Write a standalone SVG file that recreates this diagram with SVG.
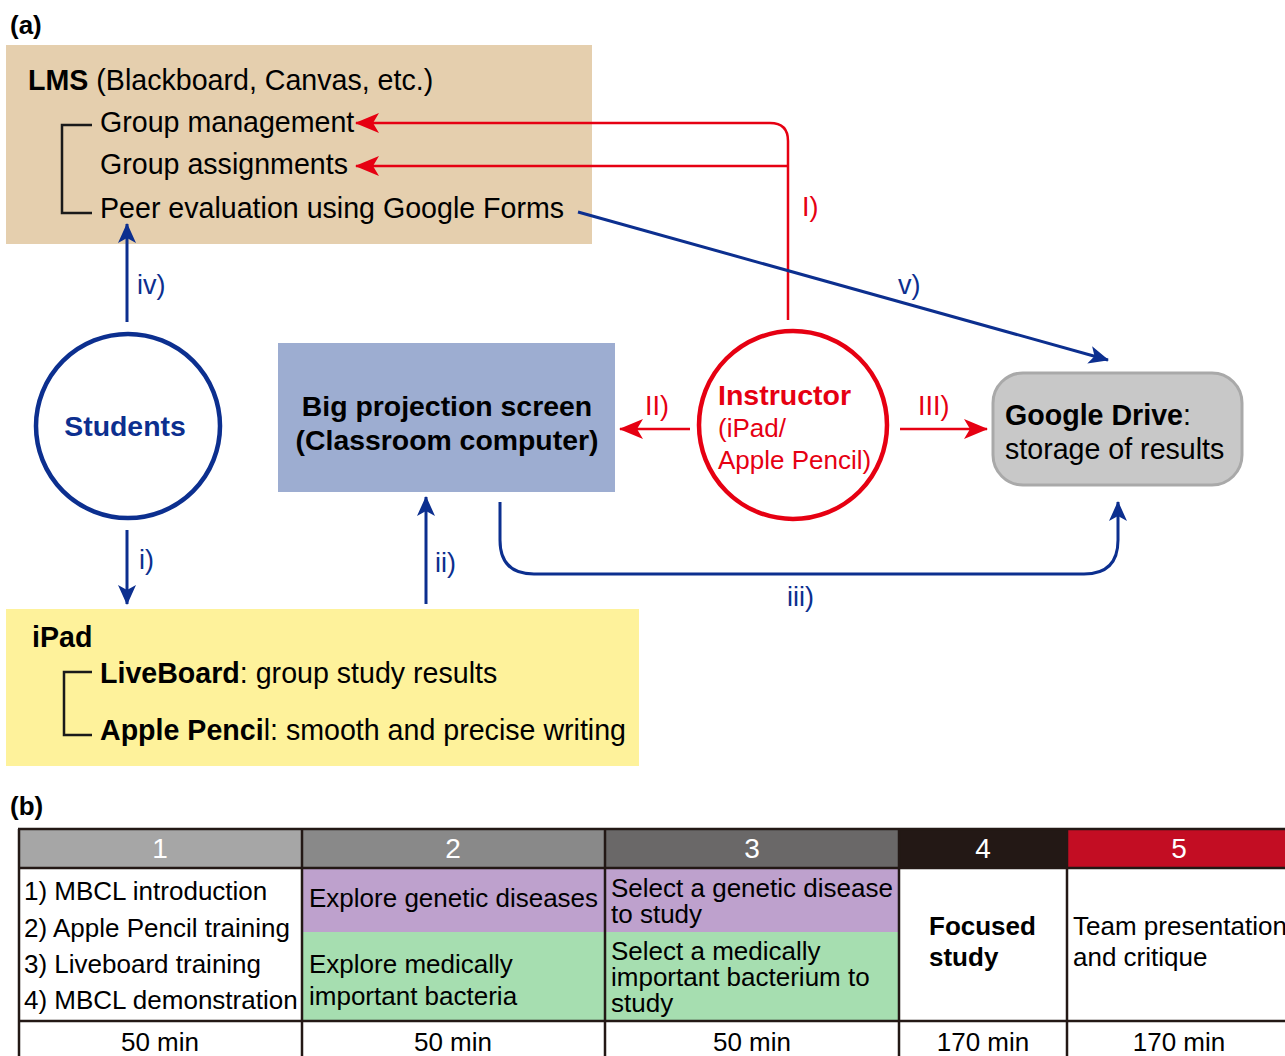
<svg xmlns="http://www.w3.org/2000/svg" width="1285" height="1056" viewBox="0 0 1285 1056">
<defs>
<style>
text{font-family:"Liberation Sans",Arial,Helvetica,sans-serif;}
.t28{font-size:28.6px;fill:#000;}
.t26{font-size:26px;fill:#000;}
.b{font-weight:bold;}
.blue{stroke:#0c2f8f;stroke-width:3;fill:none;}
.red{stroke:#e60012;stroke-width:2.5;fill:none;}
.lb{font-size:27px;fill:#0c2f8f;}
.lr{font-size:27px;fill:#e60012;}
.brk{stroke:#1a1a1a;stroke-width:2.5;fill:none;}
.grid{stroke:#231815;stroke-width:2.5;fill:none;}
.hd{font-size:28px;fill:#fff;text-anchor:middle;}
.mid{text-anchor:middle;}
</style>
<marker id="ab" viewBox="0 0 20 18" markerWidth="20" markerHeight="18" refX="19" refY="9" orient="auto" markerUnits="userSpaceOnUse">
<path d="M0,0 L20,9 L0,18 L5,9 Z" fill="#0c2f8f"/>
</marker>
<marker id="ar" viewBox="0 0 24 20" markerWidth="24" markerHeight="20" refX="23" refY="10" orient="auto" markerUnits="userSpaceOnUse">
<path d="M0,0 L24,10 L0,20 L6,10 Z" fill="#e60012"/>
</marker>
</defs>
<rect x="0" y="0" width="1285" height="1056" fill="#fff"/>

<text x="10" y="34" class="b" style="font-size:26px">(a)</text>

<g id="lms">
<rect x="6" y="45" width="586" height="199" fill="#e5cfae"/>
<text x="28" y="90" class="t28"><tspan font-weight="bold">LMS</tspan> (Blackboard, Canvas, etc.)</text>
<text x="100" y="132" class="t28">Group management</text>
<text x="100" y="174" class="t28">Group assignments</text>
<text x="100" y="218" class="t28">Peer evaluation using Google Forms</text>
<path class="brk" d="M92,125 H62 V213 H92"/>
</g>

<g id="students">
<circle cx="128" cy="426" r="92" fill="#fff" stroke="#0c2f8f" stroke-width="4.5"/>
<text x="125" y="436" class="mid b" style="font-size:28.4px;fill:#0c2f8f">Students</text>
</g>

<g id="projection">
<rect x="278" y="343" width="337" height="149" fill="#9dadd1"/>
<text x="447" y="416" class="b mid" style="font-size:28.4px">Big projection screen</text>
<text x="447" y="450" class="b mid" style="font-size:28.4px">(Classroom computer)</text>
</g>

<g id="instructor">
<ellipse cx="793" cy="425" rx="94" ry="94" fill="#fff" stroke="#e60012" stroke-width="4.5"/>
<text x="718" y="405" class="b" style="font-size:28.5px;fill:#e60012">Instructor</text>
<text x="718" y="437" style="font-size:26px;fill:#e60012">(iPad/</text>
<text x="718" y="469" style="font-size:26px;fill:#e60012">Apple Pencil)</text>
</g>

<g id="gdrive">
<rect x="993" y="373" width="249" height="112" rx="30" ry="30" fill="#c8c8c8" stroke="#a9a9a9" stroke-width="3"/>
<text x="1005" y="425" class="t28"><tspan font-weight="bold">Google Drive</tspan>:</text>
<text x="1005" y="459" class="t28">storage of results</text>
</g>

<g id="ipad">
<rect x="6" y="609" width="633" height="157" fill="#fef29b"/>
<text x="32" y="647" class="t28 b">iPad</text>
<text x="100" y="683" class="t28"><tspan font-weight="bold">LiveBoard</tspan>: group study results</text>
<text x="100" y="740" class="t28"><tspan font-weight="bold">Apple Penci</tspan>l: smooth and precise writing</text>
<path class="brk" d="M92,672 H64 V735 H92"/>
</g>

<g id="connectors">
<path class="red" d="M788,320 V141 Q788,123 770,123 H356" marker-end="url(#ar)"/>
<path class="red" d="M788,166 H356" marker-end="url(#ar)"/>
<text x="802" y="216" class="lr">I)</text>
<path class="red" d="M690,429 H620" marker-end="url(#ar)"/>
<text x="645" y="415" class="lr">II)</text>
<path class="red" d="M900,429 H987" marker-end="url(#ar)"/>
<text x="918" y="415" class="lr">III)</text>

<path class="blue" d="M578,212 L1108,360" marker-end="url(#ab)"/>
<text x="898" y="294" class="lb">v)</text>
<path class="blue" d="M127,322 V224" marker-end="url(#ab)"/>
<text x="137" y="294" class="lb">iv)</text>
<path class="blue" d="M127,530 V604" marker-end="url(#ab)"/>
<text x="139" y="569" class="lb">i)</text>
<path class="blue" d="M426,604 V497" marker-end="url(#ab)"/>
<text x="435" y="572" class="lb">ii)</text>
<path class="blue" d="M500,502 V540 Q500,574 534,574 H1084 Q1118,574 1118,540 V502" marker-end="url(#ab)"/>
<text x="787" y="606" class="lb">iii)</text>
</g>

<text x="10" y="815" class="b" style="font-size:26px">(b)</text>

<g id="table">
<rect x="18" y="829" width="284" height="39" fill="#a6a6a6"/>
<rect x="302" y="829" width="303" height="39" fill="#898989"/>
<rect x="605" y="829" width="294" height="39" fill="#6a6868"/>
<rect x="899" y="829" width="168" height="39" fill="#231815"/>
<rect x="1067" y="829" width="230" height="39" fill="#c30d23"/>
<rect x="302" y="868" width="303" height="64" fill="#bea1cd"/>
<rect x="302" y="932" width="303" height="89" fill="#a6deb0"/>
<rect x="605" y="868" width="294" height="64" fill="#bea1cd"/>
<rect x="605" y="932" width="294" height="89" fill="#a6deb0"/>
<path class="grid" d="M18,829 H1290 M18,868 H1290 M18,1021 H1290 M19,829 V1060 M302,829 V1060 M605,829 V1060 M899,829 V1060 M1067,829 V1060"/>

<text x="160" y="858" class="hd">1</text>
<text x="453" y="858" class="hd">2</text>
<text x="752" y="858" class="hd">3</text>
<text x="983" y="858" class="hd">4</text>
<text x="1179" y="858" class="hd">5</text>

<text x="24" y="900" class="t26">1) MBCL introduction</text>
<text x="24" y="937" class="t26">2) Apple Pencil training</text>
<text x="24" y="973" class="t26">3) Liveboard training</text>
<text x="24" y="1009" class="t26">4) MBCL demonstration</text>

<text x="309" y="907" class="t26">Explore genetic diseases</text>
<text x="309" y="973" class="t26">Explore medically</text>
<text x="309" y="1005" class="t26">important bacteria</text>

<text x="611" y="897" class="t26">Select a genetic disease</text>
<text x="611" y="923" class="t26">to study</text>
<text x="611" y="960" class="t26">Select a medically</text>
<text x="611" y="986" class="t26">important bacterium to</text>
<text x="611" y="1012" class="t26">study</text>

<text x="929" y="935" class="t26 b">Focused</text>
<text x="929" y="966" class="t26 b">study</text>

<text x="1073" y="935" class="t26">Team presentation</text>
<text x="1073" y="966" class="t26">and critique</text>

<text x="160" y="1051" class="t26 mid">50 min</text>
<text x="453" y="1051" class="t26 mid">50 min</text>
<text x="752" y="1051" class="t26 mid">50 min</text>
<text x="983" y="1051" class="t26 mid">170 min</text>
<text x="1179" y="1051" class="t26 mid">170 min</text>
</g>
</svg>
